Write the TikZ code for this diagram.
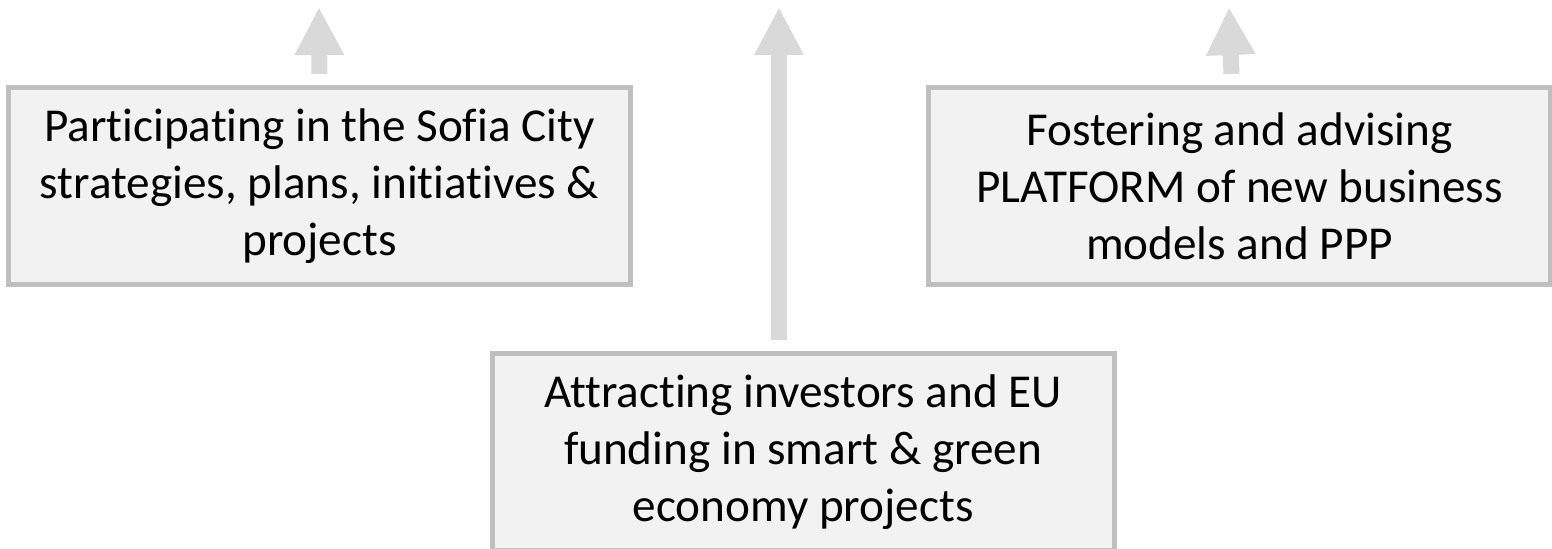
\documentclass[tikz,border=0pt]{standalone}
\usepackage{fontspec}
\setmainfont{Carlito}[Ligatures = NoCommon]
\usepackage{tikz}
\usetikzlibrary{arrows.meta, positioning}

\definecolor{boxfill}{HTML}{F2F2F2}
\definecolor{boxline}{HTML}{BFBFBF}
\definecolor{arrowgray}{HTML}{D9D9D9}

\begin{document}
\begin{tikzpicture}[
    box/.style = {draw = boxline, fill = boxfill, line width = 2.5pt,
                  minimum width = 311pt, minimum height = 98.5pt,
                  align = center, inner sep = 0pt,
                  font = \fontsize{23.6pt}{28.5pt}\selectfont},
    bigarrow/.style = {draw = arrowgray, line width = 8pt,
                  -{Triangle[width = 23pt, length = 24pt]}}
]

\useasboundingbox (0,0) rectangle (776pt,-274.5pt);

\node[box]                          (city)   at (159.75pt,-93pt)  {Participating in the Sofia City\\ strategies, plans, initiatives \&\\ projects};
\node[box] [right = 146.5pt of city] (platform)                    {Fostering and advising\\ PLATFORM of new business\\ models and PPP};
\node[box]                          (invest) at (401.5pt,-226pt)  {Attracting investors and EU\\ funding in smart \& green\\ economy projects};

% arrow tips at the top
\coordinate (citytip)     at (159.5pt,-3.5pt);
\coordinate (investtip)   at (389.5pt,-3.5pt);
\coordinate (platformtip) at (614.5pt,-3.5pt);

\draw[bigarrow] ([yshift = 5.5pt]city.north)                  -- (citytip);
\draw[bigarrow] ([xshift = -12pt, yshift = 5.5pt]invest.north) -- (investtip);
\draw[bigarrow] ([xshift = -4pt, yshift = 5.5pt]platform.north) -- (platformtip);

\end{tikzpicture}
\end{document}
